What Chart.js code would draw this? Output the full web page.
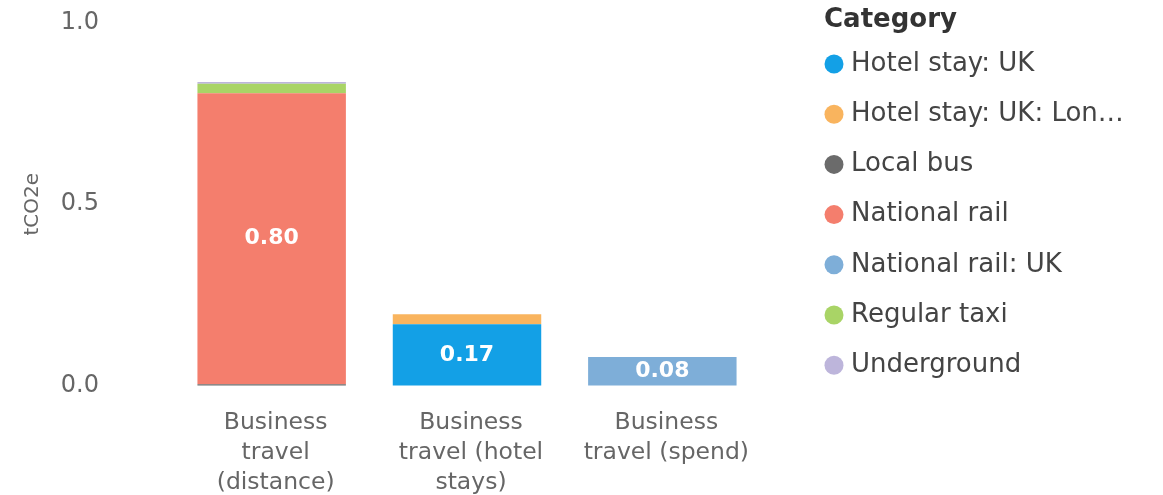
<!DOCTYPE html>
<html>
<head>
<meta charset="utf-8">
<script src="https://cdn.jsdelivr.net/npm/chart.js@4/dist/chart.umd.min.js"></script>
<style>
  html, body { margin: 0; padding: 0; background: #fff; }
  #wrap { width: 1163px; height: 495px; }
</style>
</head>
<body>
<div id="wrap"><canvas id="emissions"></canvas></div>
<script>
const categories = [
    ['Business', 'travel', '(distance)'],
    ['Business', 'travel (hotel', 'stays)'],
    ['Business', 'travel (spend)']
]

const seriesNames = [
    'Hotel stay: UK',
    'Hotel stay: UK: London',
    'Local bus',
    'National rail',
    'National rail: UK',
    'Regular taxi',
    'Underground'
]

const seriesColors = ['#13a0e6', '#f9b45e', '#6b6b6b', '#f47e6d', '#7eaed8', '#a9d466', '#bdb5db']

// tCO2e per category, one array per series
const hotelStayUK = [null, 0.17, null]
const hotelStayLondon = [null, 0.027, null]
const localBus = [0.005, null, null]
const nationalRail = [0.80, null, null]
const nationalRailUK = [null, null, 0.08]
const regularTaxi = [0.026, null, null]
const underground = [0.005, null, null]

const yTicks = [0, 0.5, 1.0]

const seriesValues = [hotelStayUK, hotelStayLondon, localBus, nationalRail, nationalRailUK, regularTaxi, underground]

const FONT = "'DejaVu Sans', Verdana, sans-serif"

// white value labels centred in the segments tall enough to hold them
const segmentLabels = {
    id: 'segmentLabels',
    afterDatasetsDraw(chart) {
        const ctx = chart.ctx
        ctx.save()
        ctx.font = 'bold 22px ' + FONT
        ctx.fillStyle = '#fff'
        ctx.textAlign = 'center'
        ctx.textBaseline = 'middle'
        chart.data.datasets.forEach((ds, i) => {
            const meta = chart.getDatasetMeta(i)
            meta.data.forEach((bar, j) => {
                const v = ds.data[j]
                if (v == null) return
                const h = Math.abs(bar.base - bar.y)
                if (h < 20) return
                ctx.fillText(v.toFixed(2), bar.x, (bar.y + bar.base) / 2)
            })
        })
        ctx.restore()
    }
}

// legend drawn in the right-hand padding: title, then one dot + name per series
const sideLegend = {
    id: 'sideLegend',
    afterDraw(chart, args, opts) {
        const ctx = chart.ctx
        const x0 = opts.left
        ctx.save()
        ctx.textBaseline = 'middle'
        ctx.textAlign = 'left'
        ctx.fillStyle = '#333'
        ctx.font = 'bold 26px ' + FONT
        ctx.fillText('Category', x0, opts.titleY)

        ctx.font = '26px ' + FONT
        chart.data.datasets.forEach((ds, i) => {
            const y = opts.firstY + i * opts.step
            ctx.fillStyle = ds.backgroundColor
            ctx.beginPath()
            ctx.arc(x0 + 10, y, 9.5, 0, Math.PI * 2)
            ctx.fill()

            let text = ds.label
            const maxW = opts.right - (x0 + 27)
            if (ctx.measureText(text).width > maxW) {
                while (text.length && ctx.measureText(text + '…').width > maxW) text = text.slice(0, -1)
                text = text.trimEnd() + '…'
            }
            ctx.fillStyle = '#444'
            ctx.fillText(text, x0 + 27, y)
        })
        ctx.restore()
    }
}

const dataChart = {
    labels: categories,
    datasets: seriesNames.map((name, i) => ({
        label: name,
        data: seriesValues[i],
        backgroundColor: seriesColors[i],
        borderWidth: 0,
        categoryPercentage: 0.76,
        barPercentage: 1
    }))
}

const options = {
    responsive: true,
    maintainAspectRatio: false,
    animation: false,
    layout: {
        padding: { top: 0, right: 403, bottom: 0, left: 0 }
    },
    scales: {
        x: {
            stacked: true,
            grid: { display: false },
            border: { display: false },
            ticks: {
                color: '#666',
                font: { family: FONT, size: 23.5, lineHeight: 1.28 },
                padding: 14,
                labelOffset: 4,
                maxRotation: 0,
                autoSkip: false
            },
            afterFit(scale) { scale.height = 109 }
        },
        y: {
            stacked: true,
            min: 0,
            max: 1,
            afterBuildTicks(scale) {
                scale.ticks = yTicks.map(v => ({ value: v }))
            },
            // invisible long tick marks push the labels away from the bars
            grid: {
                display: true,
                drawOnChartArea: false,
                drawTicks: true,
                tickLength: 67,
                tickColor: 'rgba(0,0,0,0)'
            },
            border: { display: false },
            ticks: {
                color: '#666',
                font: { family: FONT, size: 24 },
                padding: 8,
                callback: (v) => Number(v).toFixed(1)
            },
            title: {
                display: true,
                text: 'tCO2e',
                color: '#666',
                font: { family: FONT, size: 20, lineHeight: 1.2 },
                padding: { top: 21, bottom: 0 }
            },
            afterFit(scale) { scale.width = 174 }
        }
    },
    plugins: {
        tooltip: { enabled: false },
        legend: { display: false },
        sideLegend: { left: 824, right: 1132, titleY: 20, firstY: 64, step: 50.2 }
    }
}

new Chart(document.getElementById('emissions'), {
    type: 'bar',
    data: dataChart,
    options: options,
    plugins: [segmentLabels, sideLegend]
})
</script>
</body>
</html>
